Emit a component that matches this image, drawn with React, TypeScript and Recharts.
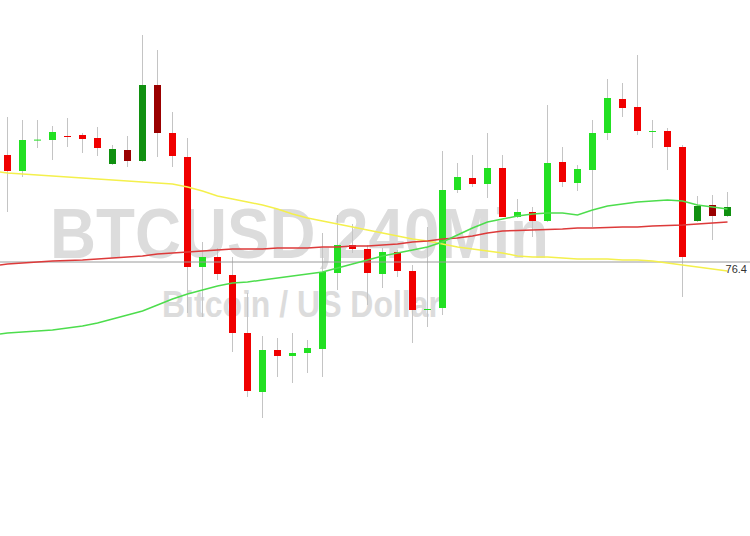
import React from 'react';
import { ComposedChart, Bar, Line, XAxis, YAxis, ReferenceLine } from 'recharts';

// OHLC per 4h candle (price units)
const opens = [381, 365, 396, 396, 400, 401, 398, 372, 386, 375, 451, 403, 379, 269, 279, 261, 203, 144, 186, 180, 183, 187, 263, 291, 287, 262, 284, 265, 226.5, 228, 346, 358, 352, 368, 319, 324, 315, 374, 353, 366, 403, 437, 429, 404.5, 405, 389, 315, 331, 320];
const closes = [365, 396, 396.4, 404, 399.6, 397, 388, 387, 375, 451, 403, 380, 269, 279, 262, 203, 145, 186, 180, 183, 188, 264, 291, 287, 263, 284, 265, 226, 227, 346, 359, 352, 368, 319, 324, 315, 373, 354, 367, 403, 438, 428, 405, 405, 389, 279, 330, 320, 329];
const highs = [419, 416, 416, 410, 418, 403, 409, 391, 400, 501, 486, 424, 398, 294, 288, 279, 243, 200, 198, 203, 196, 303, 321, 312, 291, 288, 286, 271, 309, 385, 373, 381, 403, 381, 337, 329, 431, 389, 371, 416, 457, 453, 481, 416, 408, 391, 340, 341, 344];
const lows = [324, 359, 388, 376, 389, 383, 380, 371, 369, 374, 379, 369, 223, 219, 256, 184, 139, 118, 159, 153, 163, 159, 246, 283, 231, 248, 259, 193, 209, 221, 343, 349, 338, 319, 318, 299, 314, 349, 345, 309, 396, 419, 401, 388, 366, 239, 314, 296, 319];

// moving averages (first value is where the lines enter at the left edge)
const maYellow = [364, 363, 362, 361, 360, 359, 358, 357, 356, 355, 354, 353, 352, 349, 345, 340, 337, 334, 331, 327, 322, 318, 315, 312, 309, 306, 303, 300, 297, 295, 292, 289, 287, 285, 283, 280, 279, 279, 278, 277, 277, 277, 276, 276, 275, 273, 271, 269, 267, 265];
const maRed = [271, 272, 273, 274, 275, 275.5, 276, 277, 278, 279, 280, 282, 283, 284, 285, 286, 287, 287, 287, 288, 288, 288, 289, 289, 290, 290, 291, 292, 294, 295, 297, 298, 300, 303, 305, 305.5, 306, 306.5, 307, 308, 308, 308.5, 309, 309, 310, 310.5, 311, 312, 313, 314];
const maGreen = [202, 203, 204, 205, 206, 208, 210, 213, 217, 221, 225, 231, 237, 242, 246, 250, 253, 254, 256, 258, 260, 262, 264, 268, 272, 276, 280, 283, 286, 289, 294, 301, 308, 314, 317, 320, 322, 323, 323, 321, 326, 330, 332, 334, 335, 336, 335, 331, 329, 327];

const fibLevel = 274;
const fibLabel = '76.4';

const data = [
  { i: -0.5, maYellow: maYellow[0], maRed: maRed[0], maGreen: maGreen[0] },
  ...opens.map((o, i) => ({
    i,
    open: o,
    close: closes[i],
    high: highs[i],
    low: lows[i],
    range: [lows[i], highs[i]],
    maYellow: maYellow[i + 1],
    maRed: maRed[i + 1],
    maGreen: maGreen[i + 1],
  })),
];

// a few candles are drawn in darker tones on the source chart
const darkCandles = new Set([7, 8, 9, 10, 46, 47, 48]);

const Candle = (props: any) => {
  const { x, y, width, height, payload } = props;
  if (!payload || payload.open === undefined) return null;
  const { open, close, high, low, i } = payload;
  const top = Math.min(y, y + height);
  const h = Math.abs(height);
  const ppu = high - low === 0 ? 0 : h / (high - low);
  const cx = Math.round(x + width / 2) + 0.5;
  const bodyTop = top + (high - Math.max(open, close)) * ppu;
  const bodyH = Math.max(1, Math.abs(open - close) * ppu);
  const up = close >= open;
  const dark = darkCandles.has(i);
  const fill = up ? (dark ? '#109010' : '#22e022') : dark ? '#9a0000' : '#f00000';
  return (
    <g>
      <line x1={cx} x2={cx} y1={top} y2={top + h} stroke="#c4c4c4" strokeWidth={1} />
      <rect x={cx - 3.5} y={bodyTop} width={7} height={bodyH} fill={fill} />
    </g>
  );
};

export default function App() {
  return (
    <div style={{ position: 'absolute', left: 0, top: 0, width: 750, height: 536, background: '#fff', fontFamily: 'Arial, "Liberation Sans", sans-serif' }}>
      <svg width={750} height={536} style={{ position: 'absolute', left: 0, top: 0 }}>
        <text x={50} y={258} fontSize={71} fontWeight="bold" fill="#dcdcdc" textLength={499} lengthAdjust="spacingAndGlyphs">
          BTCUSD,240Min
        </text>
        <text x={162} y={317} fontSize={37} fontWeight="bold" fill="#dcdcdc" textLength={279} lengthAdjust="spacingAndGlyphs">
          Bitcoin / US Dollar
        </text>
      </svg>
      <div style={{ position: 'absolute', left: 0, top: 0 }}>
        <ComposedChart width={750} height={536} data={data} margin={{ top: 0, right: 0, bottom: 0, left: 0 }}>
          <XAxis dataKey="i" type="number" domain={[-0.5, 49.5]} hide />
          <YAxis type="number" domain={[0, 536]} hide />
          <ReferenceLine
            y={fibLevel}
            stroke="#9a9a9a"
            strokeWidth={1}
            label={{ value: fibLabel, position: 'insideTopRight', offset: 3, fill: '#333', fontSize: 11 }}
          />
          <Bar dataKey="range" shape={Candle} barSize={7} isAnimationActive={false} />
          <Line dataKey="maYellow" stroke="#f4f04c" strokeWidth={1.5} dot={false} activeDot={false} isAnimationActive={false} />
          <Line dataKey="maRed" stroke="#dd3a3a" strokeWidth={1.5} dot={false} activeDot={false} isAnimationActive={false} />
          <Line dataKey="maGreen" stroke="#4ddd4d" strokeWidth={1.5} dot={false} activeDot={false} isAnimationActive={false} />
        </ComposedChart>
      </div>
    </div>
  );
}
